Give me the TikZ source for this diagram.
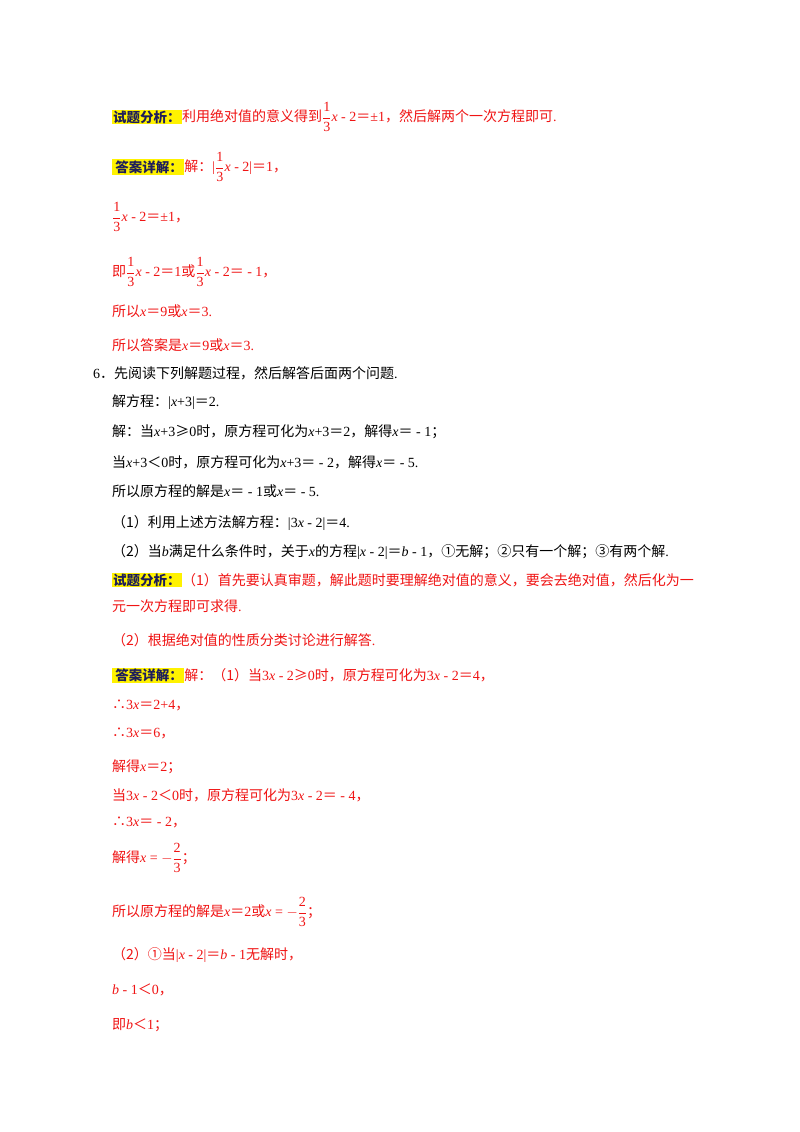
\documentclass[tikz,border=0pt]{standalone}
\usepackage{fontspec}
\usepackage{amsmath}
\setmainfont{Liberation Serif}
\newfontfamily\cjk{Noto Sans CJK SC}
\newcommand{\C}[1]{{\cjk #1}}
\newcommand{\xv}{\textit{x}}
\newcommand{\fr}{$\dfrac{\text{1}}{\text{3}}$}
\newcommand{\frt}{$-\dfrac{\text{2}}{\text{3}}$}
\definecolor{rd}{RGB}{240,20,20}
\definecolor{nv}{RGB}{30,30,90}
\begin{document}
\begin{tikzpicture}[x=1pt,y=1pt,
  t/.style={anchor=west,inner sep=0pt,font=\fontsize{14}{16}\selectfont},
  r/.style={t,text=rd},
  lab/.style={anchor=west,inner sep=1pt,fill=yellow,text=nv,font=\fontsize{13.5}{16}\selectfont\cjk\bfseries}]
\useasboundingbox (0,0) rectangle (800,-1132);
\fill[white] (0,0) rectangle (800,-1132);
\node[lab] (l1) at (112,-117) {试题分析：};
\node[r] (a1) at (l1.east) {\C{利用绝对值的意义得到}\fr\xv{} - 2\C{＝}±1\C{，然后解两个一次方程即可}.};
\node[lab] (l2) at (112,-167) {\,答案详解：};
\node[r] (a2) at (l2.east) {\C{解：}|\fr\xv{} - 2|\C{＝}1\C{，}};
\node[r] (a3) at (112,-217) {\fr\xv{} - 2\C{＝}±1\C{，}};
\node[r] (a4) at (112,-272) {\C{即}\fr\xv{} - 2\C{＝}1\C{或}\fr\xv{} - 2\C{＝} - 1\C{，}};
\node[r] (a5) at (112,-311) {\C{所以}\xv\C{＝}9\C{或}\xv\C{＝}3.};
\node[r] (a6) at (112,-345) {\C{所以答案是}\xv\C{＝}9\C{或}\xv\C{＝}3.};
\node[t] (b1) at (93,-373) {6\C{．先阅读下列解题过程，然后解答后面两个问题}.};
\node[t] (b2) at (112,-402) {\C{解方程：}|\xv+3|\C{＝}2.};
\node[t] (b3) at (112,-432) {\C{解：当}\xv+3\C{≥}0\C{时，原方程可化为}\xv+3\C{＝}2\C{，解得}\xv\C{＝} - 1\C{；}};
\node[t] (b4) at (112,-462) {\C{当}\xv+3\C{＜}0\C{时，原方程可化为}\xv+3\C{＝} - 2\C{，解得}\xv\C{＝} - 5.};
\node[t] (b5) at (112,-491) {\C{所以原方程的解是}\xv\C{＝} - 1\C{或}\xv\C{＝} - 5.};
\node[t] (b6) at (112,-523) {\C{（1）利用上述方法解方程：}|3\xv{} - 2|\C{＝}4.};
\node[t] (b7) at (112,-552) {\C{（2）当}\textit{b}\C{满足什么条件时，关于}\xv\C{的方程}|\xv{} - 2|\C{＝}\textit{b} - 1\C{，①无解；②只有一个解；③有两个解}.};
\node[lab] (l3) at (112,-580) {试题分析：};
\node[r] (c1) at (l3.east) {\C{（1）首先要认真审题，解此题时要理解绝对值的意义，要会去绝对值，然后化为一}};
\node[r] (c2) at (112,-606) {\C{元一次方程即可求得}.};
\node[r] (c3) at (112,-640) {\C{（2）根据绝对值的性质分类讨论进行解答}.};
\node[lab] (l4) at (112,-675) {\,答案详解：};
\node[r] (d1) at (l4.east) {\C{解：（1）当}3\xv{} - 2\C{≥}0\C{时，原方程可化为}3\xv{} - 2\C{＝}4\C{，}};
\node[r] (d2) at (112,-705) {\C{∴}3\xv\C{＝}2+4\C{，}};
\node[r] (d3) at (112,-733) {\C{∴}3\xv\C{＝}6\C{，}};
\node[r] (d4) at (112,-767) {\C{解得}\xv\C{＝}2\C{；}};
\node[r] (d5) at (112,-795) {\C{当}3\xv{} - 2\C{＜}0\C{时，原方程可化为}3\xv{} - 2\C{＝} - 4\C{，}};
\node[r] (d6) at (112,-822) {\C{∴}3\xv\C{＝} - 2\C{，}};
\node[r] (d7) at (112,-858) {\C{解得}\xv{} = \frt\C{；}};
\node[r] (d8) at (112,-912) {\C{所以原方程的解是}\xv\C{＝}2\C{或}\xv{} = \frt\C{；}};
\node[r] (d9) at (112,-955) {\C{（2）①当}|\xv{} - 2|\C{＝}\textit{b} - 1\C{无解时，}};
\node[r] (d10) at (112,-990) {\textit{b} - 1\C{＜}0\C{，}};
\node[r] (d11) at (112,-1025) {\C{即}\textit{b}\C{＜}1\C{；}};
\end{tikzpicture}
\end{document}
